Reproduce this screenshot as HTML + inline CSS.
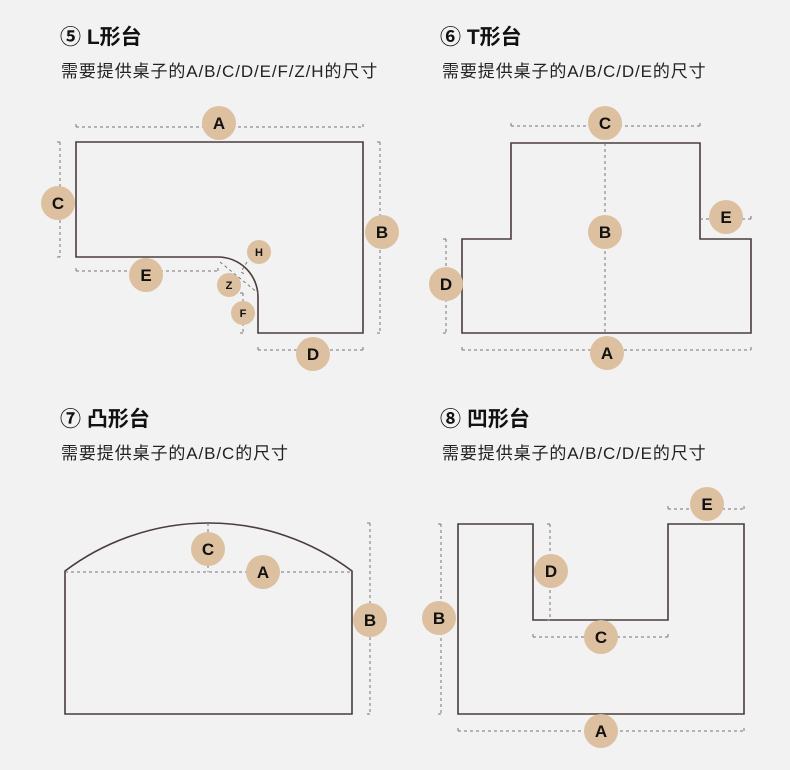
<!DOCTYPE html>
<html><head><meta charset="utf-8"><style>
body{margin:0;background:#f2f2f2;}
svg{display:block;}
.t{font-family:"Liberation Sans","Noto Sans CJK SC",sans-serif;font-weight:bold;font-size:21px;fill:#111;}
.s{font-family:"Liberation Sans","Noto Sans CJK SC",sans-serif;font-size:17px;letter-spacing:0.9px;fill:#222;}
.o{fill:none;stroke:#4a3c3c;stroke-width:1.6;}
.d{fill:none;stroke:#777;stroke-width:1;stroke-dasharray:3,3;}
.c{fill:#dcc0a0;}
.l{font-family:"Liberation Sans",sans-serif;font-weight:bold;font-size:17px;fill:#111;text-anchor:middle;}
.ls{font-family:"Liberation Sans",sans-serif;font-weight:bold;font-size:11px;fill:#111;text-anchor:middle;}
</style></head><body>
<svg width="790" height="770" viewBox="0 0 790 770">
<text class="t" x="60" y="44">⑤ L形台</text>
<text class="s" x="61" y="77">需要提供桌子的A/B/C/D/E/F/Z/H的尺寸</text>
<text class="t" x="440" y="44">⑥ T形台</text>
<text class="s" x="442" y="77">需要提供桌子的A/B/C/D/E的尺寸</text>
<text class="t" x="60" y="426">⑦ 凸形台</text>
<text class="s" x="61" y="459">需要提供桌子的A/B/C的尺寸</text>
<text class="t" x="440" y="426">⑧ 凹形台</text>
<text class="s" x="442" y="459">需要提供桌子的A/B/C/D/E的尺寸</text>

<!-- L -->
<path class="o" d="M76,142 H363 V333 H258 V297 A40,40 0 0 0 218,257 H76 Z"/>
<path class="d" d="M76,127 H363 M76,124 V130 M363,124 V130"/>
<path class="d" d="M60,142 V257 M57,142 H63 M57,257 H63"/>
<path class="d" d="M380,142 V333 M377,142 H383 M377,333 H383"/>
<path class="d" d="M76,271 H218 M76,268 V274 M218,268 V274"/>
<path class="d" d="M258,350 H363 M258,347 V353 M363,347 V353"/>
<path class="d" d="M220,262 L258,293 M243,293 V333 M240,293 H246 M240,333 H246"/>
<path class="d" d="M247,262 L241,272 L246,275"/>
<circle class="c" cx="219" cy="123" r="17"/><text class="l" x="219" y="129">A</text>
<circle class="c" cx="58" cy="203" r="17"/><text class="l" x="58" y="209">C</text>
<circle class="c" cx="382" cy="232" r="17"/><text class="l" x="382" y="238">B</text>
<circle class="c" cx="146" cy="275" r="17"/><text class="l" x="146" y="281">E</text>
<circle class="c" cx="313" cy="354" r="17"/><text class="l" x="313" y="360">D</text>
<circle class="c" cx="259" cy="252" r="12"/><text class="ls" x="259" y="256">H</text>
<circle class="c" cx="229" cy="285" r="12"/><text class="ls" x="229" y="289">Z</text>
<circle class="c" cx="243" cy="313" r="12"/><text class="ls" x="243" y="317">F</text>

<!-- T -->
<path class="o" d="M511,143 H700 V239 H751 V333 H462 V239 H511 Z"/>
<path class="d" d="M511,126 H700 M511,123 V129 M700,123 V129"/>
<path class="d" d="M605,143 V333"/>
<path class="d" d="M700,219 H751 M751,216 V222"/>
<path class="d" d="M446,239 V333 M443,239 H449 M443,333 H449"/>
<path class="d" d="M462,350 H751 M462,347 V353 M751,347 V353"/>
<circle class="c" cx="605" cy="123" r="17"/><text class="l" x="605" y="129">C</text>
<circle class="c" cx="605" cy="232" r="17"/><text class="l" x="605" y="238">B</text>
<circle class="c" cx="726" cy="217" r="17"/><text class="l" x="726" y="223">E</text>
<circle class="c" cx="446" cy="284" r="17"/><text class="l" x="446" y="290">D</text>
<circle class="c" cx="607" cy="353" r="17"/><text class="l" x="607" y="359">A</text>

<!-- 凸 -->
<path class="o" d="M65,714 V571 A238.5,238.5 0 0 1 352,571 V714 Z"/>
<path class="d" d="M65,572 H352 M208,523 V572"/>
<path class="d" d="M370,523 V714 M367,523 H373 M367,714 H373"/>
<circle class="c" cx="208" cy="549" r="17"/><text class="l" x="208" y="555">C</text>
<circle class="c" cx="263" cy="572" r="17"/><text class="l" x="263" y="578">A</text>
<circle class="c" cx="370" cy="620" r="17"/><text class="l" x="370" y="626">B</text>

<!-- 凹 -->
<path class="o" d="M458,524 H533 V620 H668 V524 H744 V714 H458 Z"/>
<path class="d" d="M441,524 V714 M438,524 H444 M438,714 H444"/>
<path class="d" d="M550,524 V620 M547,524 H553 M547,620 H553"/>
<path class="d" d="M533,637 H668 M533,634 V640 M668,634 V640"/>
<path class="d" d="M668,509 H744 M668,506 V512 M744,506 V512"/>
<path class="d" d="M458,731 H744 M458,728 V734 M744,728 V734"/>
<circle class="c" cx="439" cy="618" r="17"/><text class="l" x="439" y="624">B</text>
<circle class="c" cx="551" cy="571" r="17"/><text class="l" x="551" y="577">D</text>
<circle class="c" cx="601" cy="637" r="17"/><text class="l" x="601" y="643">C</text>
<circle class="c" cx="707" cy="504" r="17"/><text class="l" x="707" y="510">E</text>
<circle class="c" cx="601" cy="731" r="17"/><text class="l" x="601" y="737">A</text>
</svg>
</body></html>
